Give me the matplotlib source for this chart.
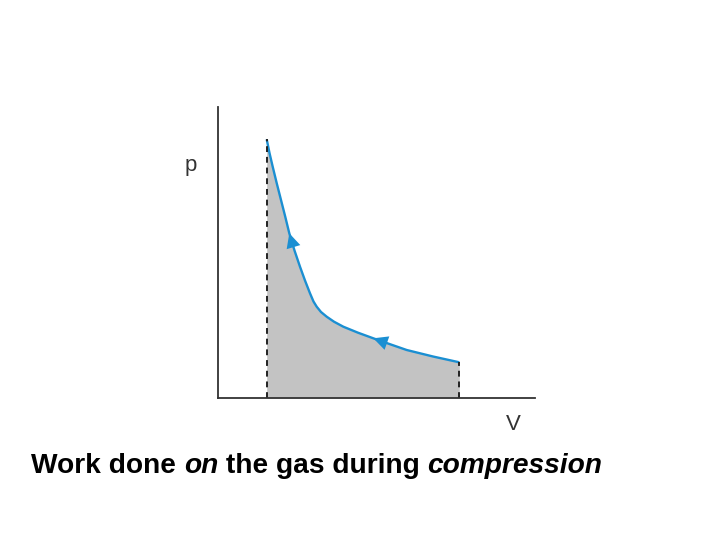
import matplotlib
matplotlib.use("Agg")
import matplotlib.pyplot as plt
from matplotlib.patches import FancyArrowPatch

# Curve points (volume, pressure) in arbitrary units
volume = [48.7, 51.5, 54.7, 58.8, 63.0, 67.2, 71.3, 76.5, 82.0, 87.0, 92.0, 95.5, 98.7,
          103.0, 108.7, 116.0, 125.3, 140.0, 155.3, 172.0, 188.7, 215.0, 241.3]
pressure = [258.7, 245.0, 231.3, 214.5, 198.0, 181.5, 164.7, 147.5, 131.3, 117.5, 104.7, 96.5, 91.3,
            86.0, 81.3, 76.3, 71.3, 65.3, 59.7, 53.8, 48.0, 41.5, 35.7]

x_label = "V"
y_label = "p"
caption_parts = ["Work done ", "on", " the gas during ", "compression"]

blue = "#1b8fd2"

fig = plt.figure(figsize=(7.2, 5.4), dpi=100)
ax = fig.add_axes([218/720, 1-398/540, (535-218)/720, (398-107)/540])
ax.set_xlim(0, 317)
ax.set_ylim(0, 291)

ax.fill_between(volume, pressure, 0, color="#c3c3c3", linewidth=0)
ax.plot(volume, pressure, color=blue, lw=1.7, solid_capstyle="butt")
ax.plot([volume[0], volume[0]], [0, pressure[0]], color="#222222", ls=(0, (3, 2.5)), lw=1.4)
ax.plot([volume[-1], volume[-1]], [0, pressure[-1]], color="#222222", ls=(0, (3, 2.5)), lw=1.4)

# direction arrows (compression: moving to smaller volume)
for i in (6, 18):
    a = FancyArrowPatch((volume[i+1], pressure[i+1]), (volume[i], pressure[i]),
                        arrowstyle="-|>,head_length=0.65,head_width=0.32",
                        mutation_scale=16, color=blue, lw=0, shrinkA=0, shrinkB=0)
    ax.add_patch(a)

for s in ("top", "right"):
    ax.spines[s].set_visible(False)
for s in ("left", "bottom"):
    ax.spines[s].set_color("#333333")
    ax.spines[s].set_linewidth(1.3)
ax.set_xticks([])
ax.set_yticks([])

fig.text(191/720, 1-165/540, y_label, fontsize=16, color="#333333",
         family="Liberation Sans", ha="center", va="center")
fig.text(513/720, 1-425/540, x_label, fontsize=16, color="#333333",
         family="Liberation Sans", ha="center", va="center")

# caption with mixed italic
x0 = 31
renderer = fig.canvas.get_renderer()
xpos = x0/720
for i, part in enumerate(caption_parts):
    t = fig.text(xpos, 1-466/540, part, fontsize=20.25, family="Liberation Sans", weight="bold",
                 style="italic" if i % 2 == 1 else "normal", ha="left", va="center", color="black")
    bb = t.get_window_extent(renderer=renderer)
    xpos += bb.width/fig.bbox.width

fig.savefig("out.png", dpi=100)
